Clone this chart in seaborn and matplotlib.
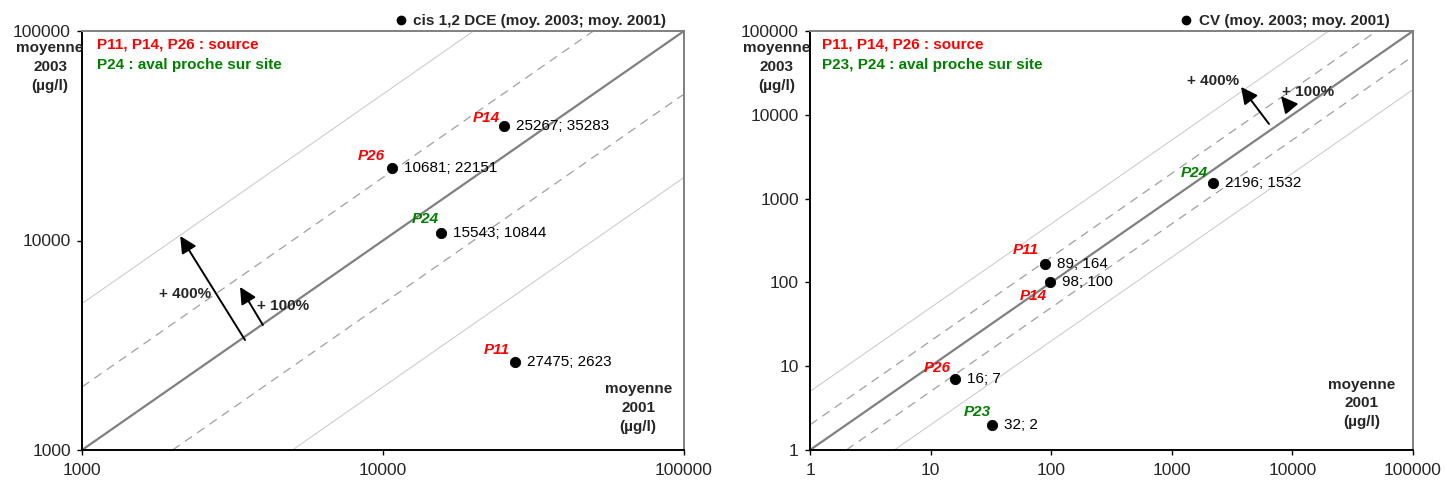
import numpy as np
import pandas as pd
import seaborn as sns
import matplotlib.pyplot as plt
from matplotlib.lines import Line2D
from matplotlib.ticker import FixedLocator, FixedFormatter, NullLocator

sns.set_style('white')
plt.rcParams['font.family'] = ['Liberation Sans', 'DejaVu Sans']

#%%
# Data (x = moyenne 2001, y = moyenne 2003)
left_wells = ['P14', 'P26', 'P24', 'P11']
left_x2001 = [25267, 10681, 15543, 27475]
left_y2003 = [35283, 22151, 10844, 2623]
left_groups = ['source', 'source', 'aval', 'source']

right_wells = ['P24', 'P11', 'P14', 'P26', 'P23']
right_x2001 = [2196, 89, 98, 16, 32]
right_y2003 = [1532, 164, 100, 7, 2]
right_groups = ['aval', 'source', 'source', 'source', 'aval']

left_ticks = [1000, 10000, 100000]
right_ticks = [1, 10, 100, 1000, 10000, 100000]
left_tick_labels = ['1000', '10000', '100000']
right_tick_labels = ['1', '10', '100', '1000', '10000', '100000']

left_title = 'cis 1,2 DCE (moy. 2003; moy. 2001)'
right_title = 'CV (moy. 2003; moy. 2001)'
left_groups_text = ['P11, P14, P26 : source', 'P24 : aval proche sur site']
right_groups_text = ['P11, P14, P26 : source', 'P23, P24 : aval proche sur site']

# reference lines y = ratio * x
ratios = [1, 2, 0.5, 5, 0.2]

# arrows: (tail x, tail y, tip x, tip y, text x, text y, text)
left_arrows = [(3480, 3350, 2120, 10500, 2200, 5560, '+ 400%'),
               (3990, 3950, 3350, 6000, 4650, 4870, '+ 100%')]
right_arrows = [(6400, 7770, 3750, 21500, 2200, 25300, '+ 400%'),
                (9550, 12400, 8040, 16700, 13500, 18700, '+ 100%')]

# label offsets (pixels) of the well names relative to the points
left_name_offsets = [(-18, 8), (-20, 12), (-15, 14), (-18, 12)]
right_name_offsets = [(-19, 10), (-19, 14), (-17, -14), (-18, 11), (-14, 13)]

group_colors = {'source': '#ff0000', 'aval': '#008000'}
line_styles = {1: dict(color='#808080', lw=1.6, ls='-'),
               2: dict(color='#a0a0a0', lw=0.9, ls=(0, (7, 5))),
               0.5: dict(color='#a0a0a0', lw=0.9, ls=(0, (7, 5))),
               5: dict(color='#c8c8c8', lw=0.7, ls='-'),
               0.2: dict(color='#c8c8c8', lw=0.7, ls='-')}

panels = [
    dict(wells=left_wells, x=left_x2001, y=left_y2003, groups=left_groups,
         ticks=left_ticks, tick_labels=left_tick_labels, title=left_title,
         groups_text=left_groups_text, arrows=left_arrows, offsets=left_name_offsets,
         rect=[82 / 1445, 38 / 488, 602 / 1445, 419 / 488],
         ylab_x=-0.053, xlab=(0.924, 0.162), legend_x=0.976, text_x=0.025),
    dict(wells=right_wells, x=right_x2001, y=right_y2003, groups=right_groups,
         ticks=right_ticks, tick_labels=right_tick_labels, title=right_title,
         groups_text=right_groups_text, arrows=right_arrows, offsets=right_name_offsets,
         rect=[810 / 1445, 38 / 488, 603 / 1445, 419 / 488],
         ylab_x=-0.055, xlab=(0.915, 0.173), legend_x=0.966, text_x=0.02),
]

#%%
fig = plt.figure(figsize=(14.45, 4.88), dpi=100)

for panel in panels:
    ax = fig.add_axes(panel['rect'])
    df = pd.DataFrame({'Puits': panel['wells'], 'moyenne 2001': panel['x'],
                       'moyenne 2003': panel['y'], 'Groupe': panel['groups']})
    lo, hi = panel['ticks'][0], panel['ticks'][-1]

    # reference lines, clipped exactly to the plot square
    for ratio in ratios:
        x_start, x_end = max(lo, lo / ratio), min(hi, hi / ratio)
        line_df = pd.DataFrame({'x': [x_start, x_end], 'y': [x_start * ratio, x_end * ratio]})
        st = line_styles[ratio]
        sns.lineplot(data=line_df, x='x', y='y', ax=ax, color=st['color'],
                     linewidth=st['lw'], linestyle=st['ls'], zorder=1)

    sns.scatterplot(data=df, x='moyenne 2001', y='moyenne 2003', ax=ax,
                    color='black', s=55, edgecolor='black', zorder=3)
    ax.set_xscale('log')
    ax.set_yscale('log')
    ax.set_xlim(lo, hi)
    ax.set_ylim(lo, hi)
    ax.set_xlabel('')
    ax.set_ylabel('')

    for axis in [ax.xaxis, ax.yaxis]:
        axis.set_major_locator(FixedLocator(panel['ticks']))
        axis.set_major_formatter(FixedFormatter(panel['tick_labels']))
        axis.set_minor_locator(NullLocator())
    ax.tick_params(axis='both', direction='out', length=3.6, width=1, labelsize=12.5,
                   left=True, bottom=True, color='black')
    ax.tick_params(axis='x', pad=5.5)
    ax.tick_params(axis='y', pad=4.5)
    for side in ['left', 'bottom']:
        ax.spines[side].set_color('black')
        ax.spines[side].set_linewidth(1.4)
    for side in ['top', 'right']:
        ax.spines[side].set_color('#808080')
        ax.spines[side].set_linewidth(1.4)

    # point annotations
    for i, row in df.iterrows():
        dx, dy = panel['offsets'][i]
        ax.annotate(row['Puits'], (row['moyenne 2001'], row['moyenne 2003']),
                    xytext=(dx, dy), textcoords='offset pixels', ha='center', va='center',
                    fontsize=11, fontweight='bold', fontstyle='italic',
                    color=group_colors[row['Groupe']])
        ax.annotate(f"{row['moyenne 2001']}; {row['moyenne 2003']}",
                    (row['moyenne 2001'], row['moyenne 2003']),
                    xytext=(12, 0), textcoords='offset pixels', ha='left', va='center',
                    fontsize=11, color='black')

    # arrows
    for tx, ty, hx, hy, lx, ly, txt in panel['arrows']:
        ax.annotate('', xy=(hx, hy), xytext=(tx, ty),
                    arrowprops=dict(arrowstyle='-|>,head_length=1.0,head_width=0.5',
                                    color='black', lw=1.4, shrinkA=0, shrinkB=0))
        ax.text(lx, ly, txt, ha='center', va='center', fontsize=11, fontweight='bold')

    # group legend text
    ax.text(panel['text_x'], 0.967, panel['groups_text'][0],
            transform=ax.transAxes, color='#ff0000', fontsize=11, fontweight='bold', va='center')
    ax.text(panel['text_x'], 0.919, panel['groups_text'][1],
            transform=ax.transAxes, color='#008000', fontsize=11, fontweight='bold', va='center')

    # axis titles
    ax.text(panel['ylab_x'], 0.976, 'moyenne\n2003\n(µg/l)', transform=ax.transAxes,
            ha='center', va='top', fontsize=11, fontweight='bold', linespacing=1.45)
    ax.text(panel['xlab'][0], panel['xlab'][1], 'moyenne\n2001\n(µg/l)', transform=ax.transAxes,
            ha='center', va='top', fontsize=11, fontweight='bold', linespacing=1.45)

    handle = Line2D([], [], marker='o', color='black', linestyle='', markersize=6)
    leg = ax.legend([handle], [panel['title']], loc='lower right',
                    bbox_to_anchor=(panel['legend_x'], 1.0), frameon=False,
                    handlelength=0.8, handletextpad=0.4, borderpad=0.1, borderaxespad=0.1,
                    prop={'weight': 'bold', 'size': 11})

plt.savefig('out.png', dpi=100)
